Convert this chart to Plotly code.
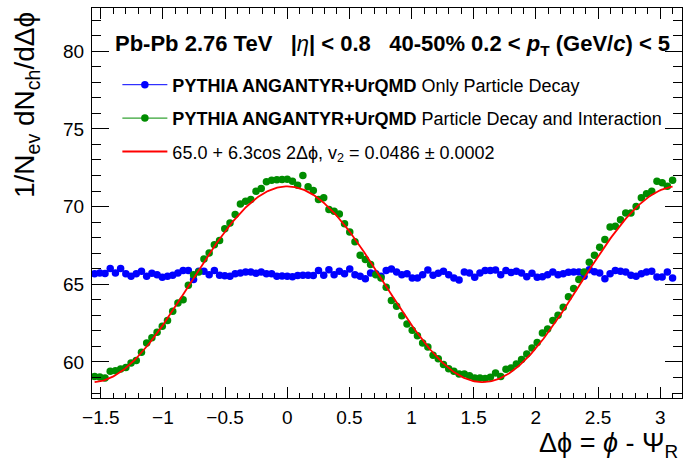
import numpy as np
import plotly.graph_objects as go

# Binning: 150 bins over 2*pi starting at -pi/2; the visible bins are drawn
N_BINS_FULL = 150
PHI_LO = -np.pi / 2
BIN_W = 2 * np.pi / N_BINS_FULL

# PYTHIA ANGANTYR+UrQMD, only particle decay
decay_only = [
    65.67, 65.73, 65.69, 66.01, 65.73, 66.01, 65.67, 65.51, 65.67, 65.84,
    65.51, 65.71, 65.62, 65.45, 65.51, 65.58, 65.73, 65.88, 65.88, 65.30,
    65.84, 65.84, 65.62, 65.88, 65.58, 65.55, 65.51, 65.67,
    65.73, 65.79, 65.79, 65.71, 65.79, 65.67, 65.67, 65.51, 65.53, 65.51,
    65.49, 65.56, 65.58, 65.58, 65.56, 65.88, 65.58, 65.94, 65.62, 65.84,
    65.67, 65.99, 65.62, 65.51, 65.36, 65.73, 65.67, 65.51, 65.88,
    65.99, 65.79, 65.62, 65.67, 65.41, 65.41, 65.62, 65.92, 65.58, 65.71,
    65.84, 65.62, 65.41, 65.28, 65.79, 65.73, 65.45, 65.73, 65.88, 65.88,
    65.92, 65.62, 65.88, 65.75, 65.84, 65.73, 65.49, 65.71, 65.45,
    65.49, 65.62, 65.79, 65.62, 65.67, 65.77, 65.79, 65.79, 65.51, 65.94,
    65.80, 65.73, 65.36, 65.67, 65.88, 65.84, 65.79, 65.58, 65.51, 65.67,
    65.79, 65.84, 65.47, 65.47, 65.79, 65.41,
]

# PYTHIA ANGANTYR+UrQMD, particle decay and hadronic interaction
decay_interaction = [
    59.07, 59.03, 58.97, 59.40, 59.44, 59.55, 59.65, 59.94, 60.10, 60.62,
    61.22, 61.55, 61.91, 62.29, 62.66, 63.26, 63.80, 64.01, 64.93, 65.62,
    65.79, 66.63, 67.02, 67.55, 67.81, 68.58, 68.95, 69.49,
    70.17, 70.34, 70.45, 70.99, 71.16, 71.59, 71.70, 71.72, 71.74, 71.76,
    71.63, 71.37, 72.00, 71.27, 71.03, 70.45, 70.56, 69.81, 69.70, 69.53,
    68.89, 68.37, 67.73, 66.87, 66.59, 66.27, 65.62, 65.41, 64.81, 63.95,
    63.58, 62.98, 62.45, 62.04, 61.69, 61.22, 60.97, 60.43, 60.21, 59.83,
    59.57, 59.40, 59.23, 59.23, 59.12, 58.97, 58.97, 58.93, 59.01, 59.29,
    59.07, 59.53, 59.61, 59.87, 60.15, 60.51, 60.90, 61.25,
    61.87, 62.12, 62.66, 63.00, 63.52, 64.19, 64.72, 65.30, 65.79, 66.41,
    66.87, 67.38, 67.88, 68.69, 68.73, 69.15, 69.59, 69.59, 70.00, 70.56,
    70.82, 70.99, 71.63, 71.53, 71.31, 71.70,
]

# Fit parameters: 65.0 + 6.3 cos(2 dphi)
FIT_C0 = 65.0
FIT_A = 6.3

dphi = PHI_LO + (np.arange(len(decay_only)) + 0.5) * BIN_W
fit_x = np.linspace(dphi[0], dphi[-1], 400)
fit_y = FIT_C0 + FIT_A * np.cos(2 * fit_x)

BLUE = "#0000ff"
GREEN = "#008c00"
RED = "#ff0000"
FONT = "Liberation Sans, Arial, Helvetica, sans-serif"
PHI = "\u03d5"

fig = go.Figure()
fig.add_trace(go.Scatter(x=dphi, y=decay_only, mode="markers",
                         marker=dict(color=BLUE, size=7.5, line=dict(width=0)),
                         showlegend=False))
fig.add_trace(go.Scatter(x=dphi, y=decay_interaction, mode="markers",
                         marker=dict(color=GREEN, size=7.5, line=dict(width=0)),
                         showlegend=False))
fig.add_trace(go.Scatter(x=fit_x, y=fit_y, mode="lines",
                         line=dict(color=RED, width=1.8), showlegend=False))

# legend keys (line + marker style)
fig.add_trace(go.Scatter(x=[None], y=[None], mode="lines+markers",
                         marker=dict(color=BLUE, size=7.5),
                         line=dict(color=BLUE, width=1),
                         legendgroup="a",
                         name="<b>PYTHIA ANGANTYR+UrQMD</b> Only Particle Decay"))
fig.add_trace(go.Scatter(x=[None], y=[None], mode="lines+markers",
                         marker=dict(color=GREEN, size=7.5),
                         line=dict(color=GREEN, width=1),
                         legendgroup="b",
                         name="<b>PYTHIA ANGANTYR+UrQMD</b> Particle Decay and Interaction"))
fig.add_trace(go.Scatter(x=[None], y=[None], mode="lines",
                         line=dict(color=RED, width=1.8),
                         legendgroup="c",
                         name=f"65.0 + 6.3cos 2Δ{PHI}, v<sub>2</sub> = 0.0486 ± 0.0002"))

axis_common = dict(
    showline=True, linecolor="black", linewidth=1, mirror="allticks",
    ticks="inside", tickcolor="black", tickwidth=1,
    showgrid=False, zeroline=False,
    tickfont=dict(family=FONT, size=19, color="black"),
)

fig.update_xaxes(range=[-np.pi / 2, 3.1755], tick0=0, dtick=0.5, ticklen=11,
                 ticklabelstandoff=2,
                 minor=dict(tick0=0, dtick=0.1, ticklen=5.5, ticks="inside",
                            tickcolor="black", showgrid=False),
                 **axis_common)
fig.update_yaxes(range=[57.68, 82.78], tick0=0, dtick=5, ticklen=17,
                 ticklabelstandoff=3,
                 minor=dict(tick0=0, dtick=1, ticklen=9, ticks="inside",
                            tickcolor="black", showgrid=False),
                 **axis_common)

header = ("<b>Pb-Pb 2.76 TeV\u00a0\u00a0\u00a0|</b><i>η</i><b>| &lt; 0.8\u00a0\u00a0\u00a0"
          "40-50% 0.2 &lt; <i>p</i><sub>T</sub> (GeV/<i>c</i>) &lt; 5</b>")

fig.update_layout(
    width=683, height=463,
    margin=dict(l=92, r=1, t=8, b=65),
    paper_bgcolor="white", plot_bgcolor="white",
    font=dict(family=FONT, color="black"),
    legend=dict(x=0.043, y=0.85, xanchor="left", yanchor="top",
                bgcolor="rgba(0,0,0,0)", borderwidth=0,
                font=dict(family=FONT, size=18, color="black"),
                tracegroupgap=7, itemwidth=45),
    annotations=[
        dict(text=header, xref="paper", yref="paper", x=0.0356, y=0.905,
             xanchor="left", yanchor="middle", showarrow=False,
             font=dict(family=FONT, size=22, color="black")),
        dict(text=f"1/N<sub>ev</sub> dN<sub>ch</sub>/dΔ{PHI}", xref="paper", yref="paper",
             x=-0.110, y=0.995, xanchor="center", yanchor="top", textangle=-90,
             showarrow=False, font=dict(family=FONT, size=28, color="black")),
        dict(text=f"Δ{PHI} = <i>{PHI}</i> - Ψ<sub>R</sub>", xref="paper", yref="paper",
             x=0.9966, y=-0.1205, xanchor="right", yanchor="middle",
             showarrow=False, font=dict(family=FONT, size=27, color="black")),
    ],
)

fig.write_html("out.html")
